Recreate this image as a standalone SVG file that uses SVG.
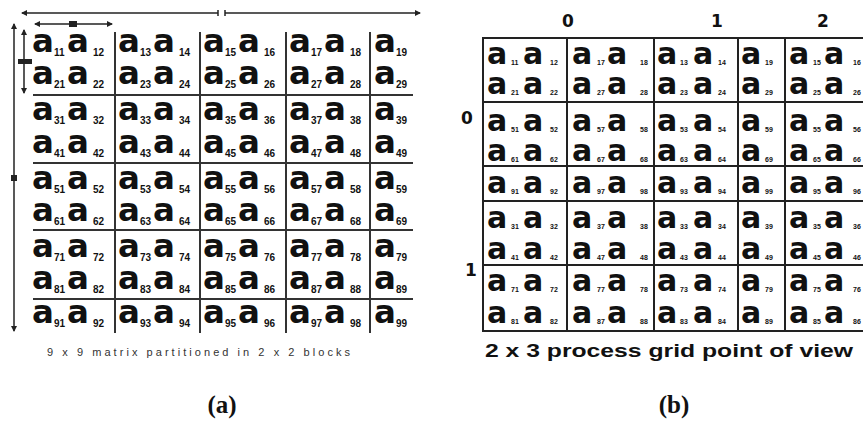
<svg xmlns="http://www.w3.org/2000/svg" width="863" height="425" viewBox="0 0 863 425">
<style>
.A{font-family:"DejaVu Sans",sans-serif;font-weight:bold;font-size:32.5px;fill:#111}
.s{font-family:"Liberation Sans",Arial,sans-serif;font-weight:bold;font-size:10px;fill:#111}
.B{font-family:"DejaVu Sans",sans-serif;font-weight:bold;font-size:30px;fill:#111}
.t{font-family:"Liberation Sans",Arial,sans-serif;font-weight:bold;font-size:7px;fill:#111}
.gl{stroke:#333;stroke-width:2;fill:none}
.gr{stroke:#222;stroke-width:2;fill:none}
.ar{stroke:#222;stroke-width:1.5;fill:none}
.lbl{font-family:"DejaVu Sans",sans-serif;font-weight:bold;font-size:17px;fill:#111;text-anchor:middle}
.cap{font-family:"Liberation Sans",Arial,sans-serif;font-size:11px;fill:#333}
.capb{font-family:"Liberation Sans",Arial,sans-serif;font-weight:bold;font-size:19px;fill:#111}
.pl{font-family:"Liberation Serif","Times New Roman",serif;font-weight:bold;font-size:25px;fill:#111;text-anchor:middle}
</style>
<defs>
<marker id="ah" markerWidth="6" markerHeight="6" refX="5" refY="3" orient="auto-start-reverse" markerUnits="userSpaceOnUse">
<path d="M0,0 L6,3 L0,6 z" fill="#222"/>
</marker>
</defs>
<rect width="863" height="425" fill="#fff"/>

<!-- connectors: dimension arrows of panel (a) -->
<g id="connectors">
<line class="ar" x1="22" y1="13" x2="218" y2="13" marker-start="url(#ah)"/>
<line class="ar" x1="225" y1="13" x2="420" y2="13" marker-end="url(#ah)"/>
<line class="ar" x1="218" y1="10" x2="218" y2="16"/>
<line class="ar" x1="225" y1="10" x2="225" y2="16"/>
<line class="ar" x1="35" y1="24" x2="70" y2="24" marker-start="url(#ah)"/>
<line class="ar" x1="77" y1="24" x2="112" y2="24" marker-end="url(#ah)"/>
<rect x="69" y="21" width="8" height="6" fill="#222"/>
<line class="ar" x1="14" y1="24" x2="14" y2="331" marker-start="url(#ah)" marker-end="url(#ah)"/>
<rect x="11" y="175" width="6" height="6" fill="#222"/>
<line class="ar" x1="24" y1="30" x2="24" y2="93" marker-start="url(#ah)" marker-end="url(#ah)"/>
<rect x="18" y="59" width="14" height="5" fill="#222"/>
</g>

<!-- panel (a) grid -->
<g id="gridA">
<line class="gl" x1="33" y1="95" x2="413" y2="95"/>
<line class="gl" x1="33" y1="163" x2="413" y2="163"/>
<line class="gl" x1="33" y1="230" x2="413" y2="230"/>
<line class="gl" x1="33" y1="299" x2="413" y2="299"/>
<line class="gl" x1="115" y1="32" x2="115" y2="333"/>
<line class="gl" x1="200" y1="32" x2="200" y2="333"/>
<line class="gl" x1="286" y1="32" x2="286" y2="333"/>
<line class="gl" x1="370" y1="32" x2="370" y2="333"/>
</g>

<g id="a-block-row1">
<text><tspan class="A" x="32" y="52">a</tspan><tspan class="s" x="54" y="56">11</tspan><tspan class="A" x="67" y="52">a</tspan><tspan class="s" x="93" y="56">12</tspan><tspan class="A" x="118" y="52">a</tspan><tspan class="s" x="140" y="56">13</tspan><tspan class="A" x="153" y="52">a</tspan><tspan class="s" x="179" y="56">14</tspan><tspan class="A" x="203" y="52">a</tspan><tspan class="s" x="225" y="56">15</tspan><tspan class="A" x="238" y="52">a</tspan><tspan class="s" x="264" y="56">16</tspan><tspan class="A" x="289" y="52">a</tspan><tspan class="s" x="311" y="56">17</tspan><tspan class="A" x="324" y="52">a</tspan><tspan class="s" x="350" y="56">18</tspan><tspan class="A" x="374" y="52">a</tspan><tspan class="s" x="396" y="56">19</tspan></text>
<text><tspan class="A" x="32" y="84">a</tspan><tspan class="s" x="54" y="88">21</tspan><tspan class="A" x="67" y="84">a</tspan><tspan class="s" x="93" y="88">22</tspan><tspan class="A" x="118" y="84">a</tspan><tspan class="s" x="140" y="88">23</tspan><tspan class="A" x="153" y="84">a</tspan><tspan class="s" x="179" y="88">24</tspan><tspan class="A" x="203" y="84">a</tspan><tspan class="s" x="225" y="88">25</tspan><tspan class="A" x="238" y="84">a</tspan><tspan class="s" x="264" y="88">26</tspan><tspan class="A" x="289" y="84">a</tspan><tspan class="s" x="311" y="88">27</tspan><tspan class="A" x="324" y="84">a</tspan><tspan class="s" x="350" y="88">28</tspan><tspan class="A" x="374" y="84">a</tspan><tspan class="s" x="396" y="88">29</tspan></text>
</g>
<g id="a-block-row2">
<text><tspan class="A" x="32" y="120">a</tspan><tspan class="s" x="54" y="124">31</tspan><tspan class="A" x="67" y="120">a</tspan><tspan class="s" x="93" y="124">32</tspan><tspan class="A" x="118" y="120">a</tspan><tspan class="s" x="140" y="124">33</tspan><tspan class="A" x="153" y="120">a</tspan><tspan class="s" x="179" y="124">34</tspan><tspan class="A" x="203" y="120">a</tspan><tspan class="s" x="225" y="124">35</tspan><tspan class="A" x="238" y="120">a</tspan><tspan class="s" x="264" y="124">36</tspan><tspan class="A" x="289" y="120">a</tspan><tspan class="s" x="311" y="124">37</tspan><tspan class="A" x="324" y="120">a</tspan><tspan class="s" x="350" y="124">38</tspan><tspan class="A" x="374" y="120">a</tspan><tspan class="s" x="396" y="124">39</tspan></text>
<text><tspan class="A" x="32" y="153">a</tspan><tspan class="s" x="54" y="157">41</tspan><tspan class="A" x="67" y="153">a</tspan><tspan class="s" x="93" y="157">42</tspan><tspan class="A" x="118" y="153">a</tspan><tspan class="s" x="140" y="157">43</tspan><tspan class="A" x="153" y="153">a</tspan><tspan class="s" x="179" y="157">44</tspan><tspan class="A" x="203" y="153">a</tspan><tspan class="s" x="225" y="157">45</tspan><tspan class="A" x="238" y="153">a</tspan><tspan class="s" x="264" y="157">46</tspan><tspan class="A" x="289" y="153">a</tspan><tspan class="s" x="311" y="157">47</tspan><tspan class="A" x="324" y="153">a</tspan><tspan class="s" x="350" y="157">48</tspan><tspan class="A" x="374" y="153">a</tspan><tspan class="s" x="396" y="157">49</tspan></text>
</g>
<g id="a-block-row3">
<text><tspan class="A" x="32" y="189">a</tspan><tspan class="s" x="54" y="193">51</tspan><tspan class="A" x="67" y="189">a</tspan><tspan class="s" x="93" y="193">52</tspan><tspan class="A" x="118" y="189">a</tspan><tspan class="s" x="140" y="193">53</tspan><tspan class="A" x="153" y="189">a</tspan><tspan class="s" x="179" y="193">54</tspan><tspan class="A" x="203" y="189">a</tspan><tspan class="s" x="225" y="193">55</tspan><tspan class="A" x="238" y="189">a</tspan><tspan class="s" x="264" y="193">56</tspan><tspan class="A" x="289" y="189">a</tspan><tspan class="s" x="311" y="193">57</tspan><tspan class="A" x="324" y="189">a</tspan><tspan class="s" x="350" y="193">58</tspan><tspan class="A" x="374" y="189">a</tspan><tspan class="s" x="396" y="193">59</tspan></text>
<text><tspan class="A" x="32" y="221">a</tspan><tspan class="s" x="54" y="225">61</tspan><tspan class="A" x="67" y="221">a</tspan><tspan class="s" x="93" y="225">62</tspan><tspan class="A" x="118" y="221">a</tspan><tspan class="s" x="140" y="225">63</tspan><tspan class="A" x="153" y="221">a</tspan><tspan class="s" x="179" y="225">64</tspan><tspan class="A" x="203" y="221">a</tspan><tspan class="s" x="225" y="225">65</tspan><tspan class="A" x="238" y="221">a</tspan><tspan class="s" x="264" y="225">66</tspan><tspan class="A" x="289" y="221">a</tspan><tspan class="s" x="311" y="225">67</tspan><tspan class="A" x="324" y="221">a</tspan><tspan class="s" x="350" y="225">68</tspan><tspan class="A" x="374" y="221">a</tspan><tspan class="s" x="396" y="225">69</tspan></text>
</g>
<g id="a-block-row4">
<text><tspan class="A" x="32" y="257">a</tspan><tspan class="s" x="54" y="261">71</tspan><tspan class="A" x="67" y="257">a</tspan><tspan class="s" x="93" y="261">72</tspan><tspan class="A" x="118" y="257">a</tspan><tspan class="s" x="140" y="261">73</tspan><tspan class="A" x="153" y="257">a</tspan><tspan class="s" x="179" y="261">74</tspan><tspan class="A" x="203" y="257">a</tspan><tspan class="s" x="225" y="261">75</tspan><tspan class="A" x="238" y="257">a</tspan><tspan class="s" x="264" y="261">76</tspan><tspan class="A" x="289" y="257">a</tspan><tspan class="s" x="311" y="261">77</tspan><tspan class="A" x="324" y="257">a</tspan><tspan class="s" x="350" y="261">78</tspan><tspan class="A" x="374" y="257">a</tspan><tspan class="s" x="396" y="261">79</tspan></text>
<text><tspan class="A" x="32" y="289">a</tspan><tspan class="s" x="54" y="293">81</tspan><tspan class="A" x="67" y="289">a</tspan><tspan class="s" x="93" y="293">82</tspan><tspan class="A" x="118" y="289">a</tspan><tspan class="s" x="140" y="293">83</tspan><tspan class="A" x="153" y="289">a</tspan><tspan class="s" x="179" y="293">84</tspan><tspan class="A" x="203" y="289">a</tspan><tspan class="s" x="225" y="293">85</tspan><tspan class="A" x="238" y="289">a</tspan><tspan class="s" x="264" y="293">86</tspan><tspan class="A" x="289" y="289">a</tspan><tspan class="s" x="311" y="293">87</tspan><tspan class="A" x="324" y="289">a</tspan><tspan class="s" x="350" y="293">88</tspan><tspan class="A" x="374" y="289">a</tspan><tspan class="s" x="396" y="293">89</tspan></text>
</g>
<g id="a-block-row5">
<text><tspan class="A" x="32" y="323">a</tspan><tspan class="s" x="54" y="327">91</tspan><tspan class="A" x="67" y="323">a</tspan><tspan class="s" x="93" y="327">92</tspan><tspan class="A" x="118" y="323">a</tspan><tspan class="s" x="140" y="327">93</tspan><tspan class="A" x="153" y="323">a</tspan><tspan class="s" x="179" y="327">94</tspan><tspan class="A" x="203" y="323">a</tspan><tspan class="s" x="225" y="327">95</tspan><tspan class="A" x="238" y="323">a</tspan><tspan class="s" x="264" y="327">96</tspan><tspan class="A" x="289" y="323">a</tspan><tspan class="s" x="311" y="327">97</tspan><tspan class="A" x="324" y="323">a</tspan><tspan class="s" x="350" y="327">98</tspan><tspan class="A" x="374" y="323">a</tspan><tspan class="s" x="396" y="327">99</tspan></text>
</g>

<text class="cap" x="47" y="356" textLength="303" lengthAdjust="spacing">9 x 9 matrix partitioned in 2 x 2 blocks</text>
<text class="pl" x="222" y="413">(a)</text>

<!-- panel (b) grid -->
<g id="gridB">
<line class="gr" x1="482" y1="38" x2="863" y2="38"/>
<line class="gr" x1="482" y1="102" x2="863" y2="102"/>
<line class="gr" x1="482" y1="166" x2="863" y2="166"/>
<line class="gr" x1="482" y1="201" x2="863" y2="201"/>
<line class="gr" x1="482" y1="265" x2="863" y2="265"/>
<line class="gr" x1="482" y1="331" x2="863" y2="331"/>
<line class="gr" x1="483" y1="37" x2="483" y2="332"/>
<line class="gr" x1="567" y1="37" x2="567" y2="332"/>
<line class="gr" x1="654" y1="37" x2="654" y2="332"/>
<line class="gr" x1="738" y1="37" x2="738" y2="332"/>
<line class="gr" x1="785" y1="37" x2="785" y2="332"/>
</g>

<g id="proc-labels">
<text class="lbl" x="568" y="27">0</text>
<text class="lbl" x="717" y="27">1</text>
<text class="lbl" x="823" y="27">2</text>
<text class="lbl" x="467" y="124">0</text>
<text class="lbl" x="471" y="276">1</text>
</g>

<g id="b-block-row1">
<text><tspan class="B" x="487" y="64">a</tspan><tspan class="t" x="511" y="65">11</tspan><tspan class="B" x="523" y="64">a</tspan><tspan class="t" x="550" y="65">12</tspan><tspan class="B" x="572" y="64">a</tspan><tspan class="t" x="597" y="65">17</tspan><tspan class="B" x="607" y="64">a</tspan><tspan class="t" x="640" y="65">18</tspan><tspan class="B" x="657" y="64">a</tspan><tspan class="t" x="680" y="65">13</tspan><tspan class="B" x="693" y="64">a</tspan><tspan class="t" x="718" y="65">14</tspan><tspan class="B" x="741" y="64">a</tspan><tspan class="t" x="765" y="65">19</tspan><tspan class="B" x="789" y="64">a</tspan><tspan class="t" x="813" y="65">15</tspan><tspan class="B" x="824" y="64">a</tspan><tspan class="t" x="853" y="65">16</tspan></text>
<text><tspan class="B" x="487" y="94">a</tspan><tspan class="t" x="511" y="95">21</tspan><tspan class="B" x="523" y="94">a</tspan><tspan class="t" x="550" y="95">22</tspan><tspan class="B" x="572" y="94">a</tspan><tspan class="t" x="597" y="95">27</tspan><tspan class="B" x="607" y="94">a</tspan><tspan class="t" x="640" y="95">28</tspan><tspan class="B" x="657" y="94">a</tspan><tspan class="t" x="680" y="95">23</tspan><tspan class="B" x="693" y="94">a</tspan><tspan class="t" x="718" y="95">24</tspan><tspan class="B" x="741" y="94">a</tspan><tspan class="t" x="765" y="95">29</tspan><tspan class="B" x="789" y="94">a</tspan><tspan class="t" x="813" y="95">25</tspan><tspan class="B" x="824" y="94">a</tspan><tspan class="t" x="853" y="95">26</tspan></text>
</g>
<g id="b-block-row2">
<text><tspan class="B" x="487" y="131">a</tspan><tspan class="t" x="511" y="132">51</tspan><tspan class="B" x="523" y="131">a</tspan><tspan class="t" x="550" y="132">52</tspan><tspan class="B" x="572" y="131">a</tspan><tspan class="t" x="597" y="132">57</tspan><tspan class="B" x="607" y="131">a</tspan><tspan class="t" x="640" y="132">58</tspan><tspan class="B" x="657" y="131">a</tspan><tspan class="t" x="680" y="132">53</tspan><tspan class="B" x="693" y="131">a</tspan><tspan class="t" x="718" y="132">54</tspan><tspan class="B" x="741" y="131">a</tspan><tspan class="t" x="765" y="132">59</tspan><tspan class="B" x="789" y="131">a</tspan><tspan class="t" x="813" y="132">55</tspan><tspan class="B" x="824" y="131">a</tspan><tspan class="t" x="853" y="132">56</tspan></text>
<text><tspan class="B" x="487" y="161">a</tspan><tspan class="t" x="511" y="162">61</tspan><tspan class="B" x="523" y="161">a</tspan><tspan class="t" x="550" y="162">62</tspan><tspan class="B" x="572" y="161">a</tspan><tspan class="t" x="597" y="162">67</tspan><tspan class="B" x="607" y="161">a</tspan><tspan class="t" x="640" y="162">68</tspan><tspan class="B" x="657" y="161">a</tspan><tspan class="t" x="680" y="162">63</tspan><tspan class="B" x="693" y="161">a</tspan><tspan class="t" x="718" y="162">64</tspan><tspan class="B" x="741" y="161">a</tspan><tspan class="t" x="765" y="162">69</tspan><tspan class="B" x="789" y="161">a</tspan><tspan class="t" x="813" y="162">65</tspan><tspan class="B" x="824" y="161">a</tspan><tspan class="t" x="853" y="162">66</tspan></text>
</g>
<g id="b-block-row3">
<text><tspan class="B" x="487" y="193">a</tspan><tspan class="t" x="511" y="194">91</tspan><tspan class="B" x="523" y="193">a</tspan><tspan class="t" x="550" y="194">92</tspan><tspan class="B" x="572" y="193">a</tspan><tspan class="t" x="597" y="194">97</tspan><tspan class="B" x="607" y="193">a</tspan><tspan class="t" x="640" y="194">98</tspan><tspan class="B" x="657" y="193">a</tspan><tspan class="t" x="680" y="194">93</tspan><tspan class="B" x="693" y="193">a</tspan><tspan class="t" x="718" y="194">94</tspan><tspan class="B" x="741" y="193">a</tspan><tspan class="t" x="765" y="194">99</tspan><tspan class="B" x="789" y="193">a</tspan><tspan class="t" x="813" y="194">95</tspan><tspan class="B" x="824" y="193">a</tspan><tspan class="t" x="853" y="194">96</tspan></text>
</g>
<g id="b-block-row4">
<text><tspan class="B" x="487" y="228">a</tspan><tspan class="t" x="511" y="229">31</tspan><tspan class="B" x="523" y="228">a</tspan><tspan class="t" x="550" y="229">32</tspan><tspan class="B" x="572" y="228">a</tspan><tspan class="t" x="597" y="229">37</tspan><tspan class="B" x="607" y="228">a</tspan><tspan class="t" x="640" y="229">38</tspan><tspan class="B" x="657" y="228">a</tspan><tspan class="t" x="680" y="229">33</tspan><tspan class="B" x="693" y="228">a</tspan><tspan class="t" x="718" y="229">34</tspan><tspan class="B" x="741" y="228">a</tspan><tspan class="t" x="765" y="229">39</tspan><tspan class="B" x="789" y="228">a</tspan><tspan class="t" x="813" y="229">35</tspan><tspan class="B" x="824" y="228">a</tspan><tspan class="t" x="853" y="229">36</tspan></text>
<text><tspan class="B" x="487" y="259">a</tspan><tspan class="t" x="511" y="260">41</tspan><tspan class="B" x="523" y="259">a</tspan><tspan class="t" x="550" y="260">42</tspan><tspan class="B" x="572" y="259">a</tspan><tspan class="t" x="597" y="260">47</tspan><tspan class="B" x="607" y="259">a</tspan><tspan class="t" x="640" y="260">48</tspan><tspan class="B" x="657" y="259">a</tspan><tspan class="t" x="680" y="260">43</tspan><tspan class="B" x="693" y="259">a</tspan><tspan class="t" x="718" y="260">44</tspan><tspan class="B" x="741" y="259">a</tspan><tspan class="t" x="765" y="260">49</tspan><tspan class="B" x="789" y="259">a</tspan><tspan class="t" x="813" y="260">45</tspan><tspan class="B" x="824" y="259">a</tspan><tspan class="t" x="853" y="260">46</tspan></text>
</g>
<g id="b-block-row5">
<text><tspan class="B" x="487" y="291">a</tspan><tspan class="t" x="511" y="292">71</tspan><tspan class="B" x="523" y="291">a</tspan><tspan class="t" x="550" y="292">72</tspan><tspan class="B" x="572" y="291">a</tspan><tspan class="t" x="597" y="292">77</tspan><tspan class="B" x="607" y="291">a</tspan><tspan class="t" x="640" y="292">78</tspan><tspan class="B" x="657" y="291">a</tspan><tspan class="t" x="680" y="292">73</tspan><tspan class="B" x="693" y="291">a</tspan><tspan class="t" x="718" y="292">74</tspan><tspan class="B" x="741" y="291">a</tspan><tspan class="t" x="765" y="292">79</tspan><tspan class="B" x="789" y="291">a</tspan><tspan class="t" x="813" y="292">75</tspan><tspan class="B" x="824" y="291">a</tspan><tspan class="t" x="853" y="292">76</tspan></text>
<text><tspan class="B" x="487" y="323">a</tspan><tspan class="t" x="511" y="324">81</tspan><tspan class="B" x="523" y="323">a</tspan><tspan class="t" x="550" y="324">82</tspan><tspan class="B" x="572" y="323">a</tspan><tspan class="t" x="597" y="324">87</tspan><tspan class="B" x="607" y="323">a</tspan><tspan class="t" x="640" y="324">88</tspan><tspan class="B" x="657" y="323">a</tspan><tspan class="t" x="680" y="324">83</tspan><tspan class="B" x="693" y="323">a</tspan><tspan class="t" x="718" y="324">84</tspan><tspan class="B" x="741" y="323">a</tspan><tspan class="t" x="765" y="324">89</tspan><tspan class="B" x="789" y="323">a</tspan><tspan class="t" x="813" y="324">85</tspan><tspan class="B" x="824" y="323">a</tspan><tspan class="t" x="853" y="324">86</tspan></text>
</g>

<text class="capb" x="485" y="357" textLength="368" lengthAdjust="spacingAndGlyphs">2 x 3 process grid point of view</text>
<text class="pl" x="674" y="413">(b)</text>
</svg>
